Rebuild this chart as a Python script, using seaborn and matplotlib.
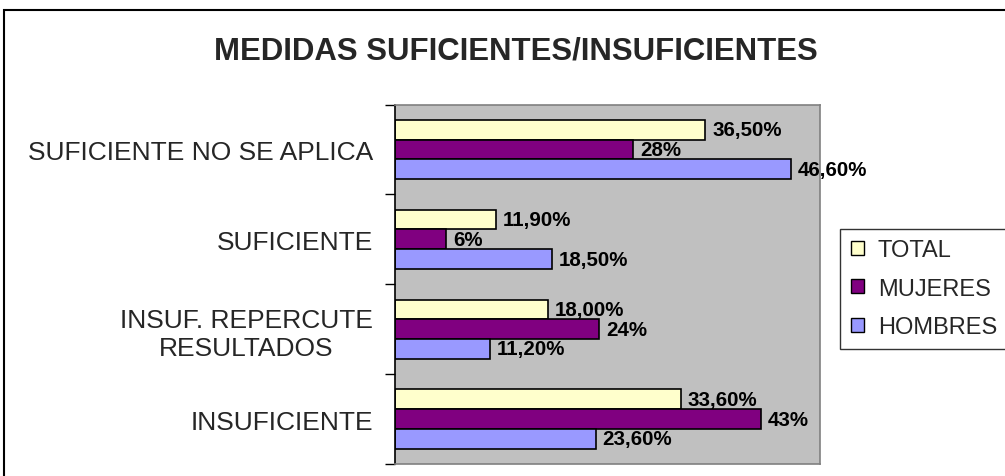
import matplotlib
matplotlib.use("Agg")
import matplotlib.pyplot as plt
import matplotlib.patches as mpatches
import seaborn as sns
import pandas as pd

categories = ["SUFICIENTE NO SE APLICA", "SUFICIENTE", "INSUF. REPERCUTE\nRESULTADOS", "INSUFICIENTE"]
series = ["TOTAL", "MUJERES", "HOMBRES"]
total = [36.5, 11.9, 18.0, 33.6]
mujeres = [28, 6, 24, 43]
hombres = [46.6, 18.5, 11.2, 23.6]
total_labels = ["36,50%", "11,90%", "18,00%", "33,60%"]
mujeres_labels = ["28%", "6%", "24%", "43%"]
hombres_labels = ["46,60%", "18,50%", "11,20%", "23,60%"]
colors = ["#FFFFCC", "#800080", "#9999FF"]

sns.set_theme(style="white")
plt.rcParams["font.family"] = ["Liberation Sans", "DejaVu Sans"]

rows = []
for s, vals in zip(series, [total, mujeres, hombres]):
    for c, v in zip(categories, vals):
        rows.append({"cat": c, "serie": s, "val": v})
df = pd.DataFrame(rows)

W, H = 1005, 477
fig = plt.figure(figsize=(W / 100, H / 100), dpi=100)
ax = fig.add_axes([395 / W, 1 - 465 / H, (820 - 395) / W, (465 - 105.5) / H])
ax.set_facecolor("#C0C0C0")

sns.barplot(data=df, y="cat", x="val", hue="serie", order=categories, hue_order=series,
            palette=colors, orient="h", width=0.66, gap=0, edgecolor="black", linewidth=1.2,
            saturation=1, ax=ax, legend=False)

ax.set_xlim(0, 50)
ax.set_ylim(len(categories) - 0.5, -0.5)
ax.set_xlabel("")
ax.set_ylabel("")
ax.set_xticks([])

# value labels
label_sets = [total_labels, mujeres_labels, hombres_labels]
for container, labs in zip(ax.containers, label_sets):
    ax.bar_label(container, labels=labs, padding=5, fontsize=14.8, fontweight="bold", color="black")

# ticks: labels at centers, tick marks at band boundaries
ax.set_yticks(range(len(categories)))
ax.set_yticklabels(categories, fontsize=19, multialignment="center", linespacing=1.25)
ax.tick_params(axis="y", which="major", length=0, pad=16)
ax.set_yticks([i - 0.5 for i in range(len(categories) + 1)], minor=True)
ax.tick_params(axis="y", which="minor", length=7, width=1, color="black", left=True)

for side in ["right", "bottom", "top"]:
    ax.spines[side].set_visible(True)
    ax.spines[side].set_color("#808080")
    ax.spines[side].set_linewidth(1.2)
ax.spines["left"].set_color("black")
ax.spines["left"].set_linewidth(1.2)

# title
fig.text(516 / W, 1 - 52 / H, "MEDIDAS SUFICIENTES/INSUFICIENTES", ha="center", va="center",
         fontsize=22.4, fontweight="bold")

# legend
handles = [mpatches.Patch(facecolor=c, edgecolor="black", linewidth=1, label=s) for c, s in zip(colors, series)]
leg = fig.legend(handles=handles, loc="upper left", bbox_to_anchor=(840 / W, 1 - 229.5 / H),
                 frameon=True, fontsize=17, handlelength=0.55, handleheight=0.55,
                 handletextpad=0.6, labelspacing=0.7, borderpad=0.45, fancybox=False,
                 borderaxespad=0)
leg.get_frame().set_edgecolor("black")
leg.get_frame().set_linewidth(1)

# figure border
border = mpatches.Rectangle((4 / W, -0.1), 1.2, 1 - 11 / H + 0.1, transform=fig.transFigure,
                            fill=False, edgecolor="black", linewidth=1.5, clip_on=False)
fig.add_artist(border)

fig.savefig("out.png", dpi=100)
